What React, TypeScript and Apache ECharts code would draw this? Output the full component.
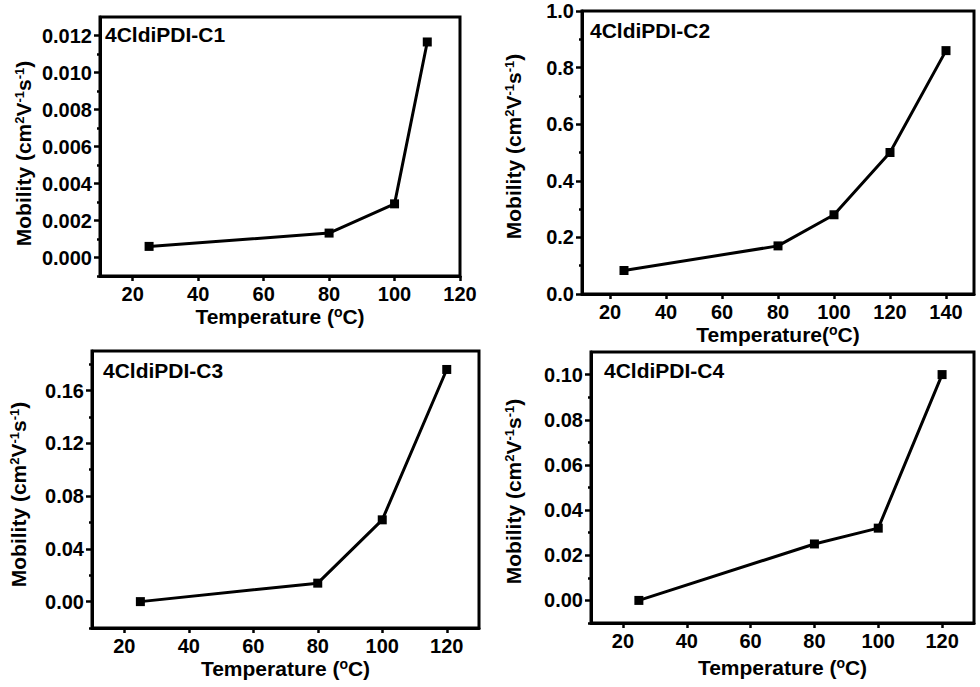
import React, { useEffect, useRef } from "react";
import * as echarts from "echarts";

const FONT = "'Liberation Sans', Arial, Helvetica, sans-serif";

// ---- data ----
const titles = ["4CldiPDI-C1", "4CldiPDI-C2", "4CldiPDI-C3", "4CldiPDI-C4"];

const tempC1 = [25, 80, 100, 110];
const mobC1 = [0.0006, 0.00132, 0.0029, 0.01165];

const tempC2 = [25, 80, 100, 120, 140];
const mobC2 = [0.083, 0.17, 0.28, 0.5, 0.86];

const tempC3 = [25, 80, 100, 120];
const mobC3 = [0.0, 0.014, 0.062, 0.176];

const tempC4 = [25, 80, 100, 120];
const mobC4 = [0.0, 0.025, 0.032, 0.1];

// ---- ticks ----
const xTicks1 = [20, 40, 60, 80, 100, 120];
const xTicks2 = [20, 40, 60, 80, 100, 120, 140];
const xTicks3 = [20, 40, 60, 80, 100, 120];
const xTicks4 = [20, 40, 60, 80, 100, 120];

const yMajor1 = [0, 0.002, 0.004, 0.006, 0.008, 0.01, 0.012];
const yMinor1 = [-0.001, 0.001, 0.003, 0.005, 0.007, 0.009, 0.011];
const yMajor2 = [0, 0.2, 0.4, 0.6, 0.8, 1.0];
const yMinor2 = [0.1, 0.3, 0.5, 0.7, 0.9];
const yMajor3 = [0, 0.04, 0.08, 0.12, 0.16];
const yMinor3 = [-0.02, 0.02, 0.06, 0.1, 0.14, 0.18];
const yMajor4 = [0, 0.02, 0.04, 0.06, 0.08, 0.1];
const yMinor4 = [-0.01, 0.01, 0.03, 0.05, 0.07, 0.09];

const xName = "Temperature ({sup|o}C)";
const xNameNoSpace = "Temperature({sup|o}C)";
const yName = "Mobility (cm{sup|2}V{sup|-1}s{sup|-1})";

const panels = [
  {
    title: titles[0], x: tempC1, y: mobC1, xTicks: xTicks1, yMajor: yMajor1, yMinor: yMinor1,
    xMin: 10, xMax: 120, yMin: -0.001, yMax: 0.013, dec: 3, xName: xName,
    grid: { left: 100, top: 17, width: 360, height: 259 }, titlePos: { left: 105, top: 24 },
    xGap: 29, yGap: 66, yShift: 7,
  },
  {
    title: titles[1], x: tempC2, y: mobC2, xTicks: xTicks2, yMajor: yMajor2, yMinor: yMinor2,
    xMin: 10, xMax: 150, yMin: 0, yMax: 1.0, dec: 1, xName: xNameNoSpace,
    grid: { left: 582, top: 11, width: 392, height: 283 }, titlePos: { left: 590, top: 20 },
    xGap: 29, yGap: 58, yShift: -6,
  },
  {
    title: titles[2], x: tempC3, y: mobC3, xTicks: xTicks3, yMajor: yMajor3, yMinor: yMinor3,
    xMin: 10, xMax: 130, yMin: -0.02, yMax: 0.19, dec: 2, xName: xName,
    grid: { left: 92, top: 351, width: 387, height: 277 }, titlePos: { left: 103, top: 360 },
    xGap: 29, yGap: 63, yShift: 5,
  },
  {
    title: titles[3], x: tempC4, y: mobC4, xTicks: xTicks4, yMajor: yMajor4, yMinor: yMinor4,
    xMin: 10, xMax: 130, yMin: -0.01, yMax: 0.11, dec: 2, xName: xName,
    grid: { left: 591, top: 352, width: 383, height: 271 }, titlePos: { left: 604, top: 360 },
    xGap: 33, yGap: 67, yShift: 4,
  },
];

const supStyle = (size: number) => ({
  fontSize: size,
  fontWeight: "bold" as const,
  color: "#000",
  fontFamily: FONT,
  verticalAlign: "top" as const,
  padding: [0, 0, 8, 0],
});

const xNameStyle = {
  fontSize: 21,
  fontWeight: "bold" as const,
  color: "#000",
  fontFamily: FONT,
  rich: { sup: supStyle(14) },
};

function yNameStyle(shift: number) {
  return {
    fontSize: 21,
    fontWeight: "bold" as const,
    color: "#000",
    fontFamily: FONT,
    padding: shift >= 0 ? [0, shift * 2, 0, 0] : [0, 0, 0, -shift * 2],
    rich: { sup: supStyle(13) },
  };
}

function buildOption() {
  const grid: any[] = [];
  const xAxis: any[] = [];
  const yAxis: any[] = [];
  const series: any[] = [];
  const title: any[] = [];

  panels.forEach((p, i) => {
    grid.push({
      ...p.grid,
      show: true,
      borderColor: "#000",
      borderWidth: 3,
      backgroundColor: "transparent",
      containLabel: false,
    });
    title.push({
      text: p.title,
      left: p.titlePos.left,
      top: p.titlePos.top,
      padding: 0,
      textStyle: { fontSize: 21, fontWeight: "bold", color: "#000", fontFamily: FONT },
    });
    xAxis.push({
      type: "value",
      gridIndex: i,
      min: p.xMin,
      max: p.xMax,
      name: p.xName,
      nameLocation: "middle",
      nameGap: p.xGap,
      nameTextStyle: xNameStyle,
      axisLine: { show: true, onZero: false, lineStyle: { color: "#000", width: 3 } },
      axisTick: { show: true, inside: false, length: 5, lineStyle: { color: "#000", width: 2.5 }, customValues: p.xTicks },
      axisLabel: {
        customValues: p.xTicks,
        fontSize: 20,
        fontWeight: "bold",
        color: "#000",
        fontFamily: FONT,
        margin: 8,
      },
      splitLine: { show: false },
    });
    yAxis.push({
      type: "value",
      gridIndex: i,
      position: "left",
      min: p.yMin,
      max: p.yMax,
      name: yName,
      nameLocation: "middle",
      nameGap: p.yGap,
      nameTextStyle: yNameStyle(p.yShift),
      axisLine: { show: true, onZero: false, lineStyle: { color: "#000", width: 3 } },
      axisTick: { show: true, inside: false, length: 6, lineStyle: { color: "#000", width: 2.5 }, customValues: p.yMajor },
      axisLabel: {
        customValues: p.yMajor,
        fontSize: 20,
        fontWeight: "bold",
        color: "#000",
        fontFamily: FONT,
        margin: 8,
        formatter: (v: number) => v.toFixed(p.dec),
      },
      splitLine: { show: false },
    });
    yAxis.push({
      type: "value",
      gridIndex: i,
      position: "left",
      offset: 0,
      min: p.yMin,
      max: p.yMax,
      axisLine: { show: false, onZero: false },
      axisTick: { show: true, inside: false, length: 3, lineStyle: { color: "#000", width: 2.5 }, customValues: p.yMinor },
      axisLabel: { show: false },
      splitLine: { show: false },
    });
    series.push({
      type: "line",
      xAxisIndex: i,
      yAxisIndex: i * 2,
      data: p.x.map((t, k) => [t, p.y[k]]),
      symbol: "rect",
      symbolSize: 9,
      color: "#000",
      itemStyle: { color: "#000" },
      lineStyle: { color: "#000", width: 3 },
      z: 3,
    });
  });

  return {
    animation: false,
    backgroundColor: "#fff",
    title,
    grid,
    xAxis,
    yAxis,
    series,
  };
}

export default function App() {
  const ref = useRef<HTMLDivElement>(null);
  useEffect(() => {
    if (!ref.current) return;
    const chart = echarts.init(ref.current, undefined, { renderer: "svg" });
    chart.setOption(buildOption() as any);
    return () => chart.dispose();
  }, []);
  return (
    <div
      ref={ref}
      style={{ position: "fixed", left: 0, top: 0, width: 980, height: 687, background: "#fff" }}
    />
  );
}
